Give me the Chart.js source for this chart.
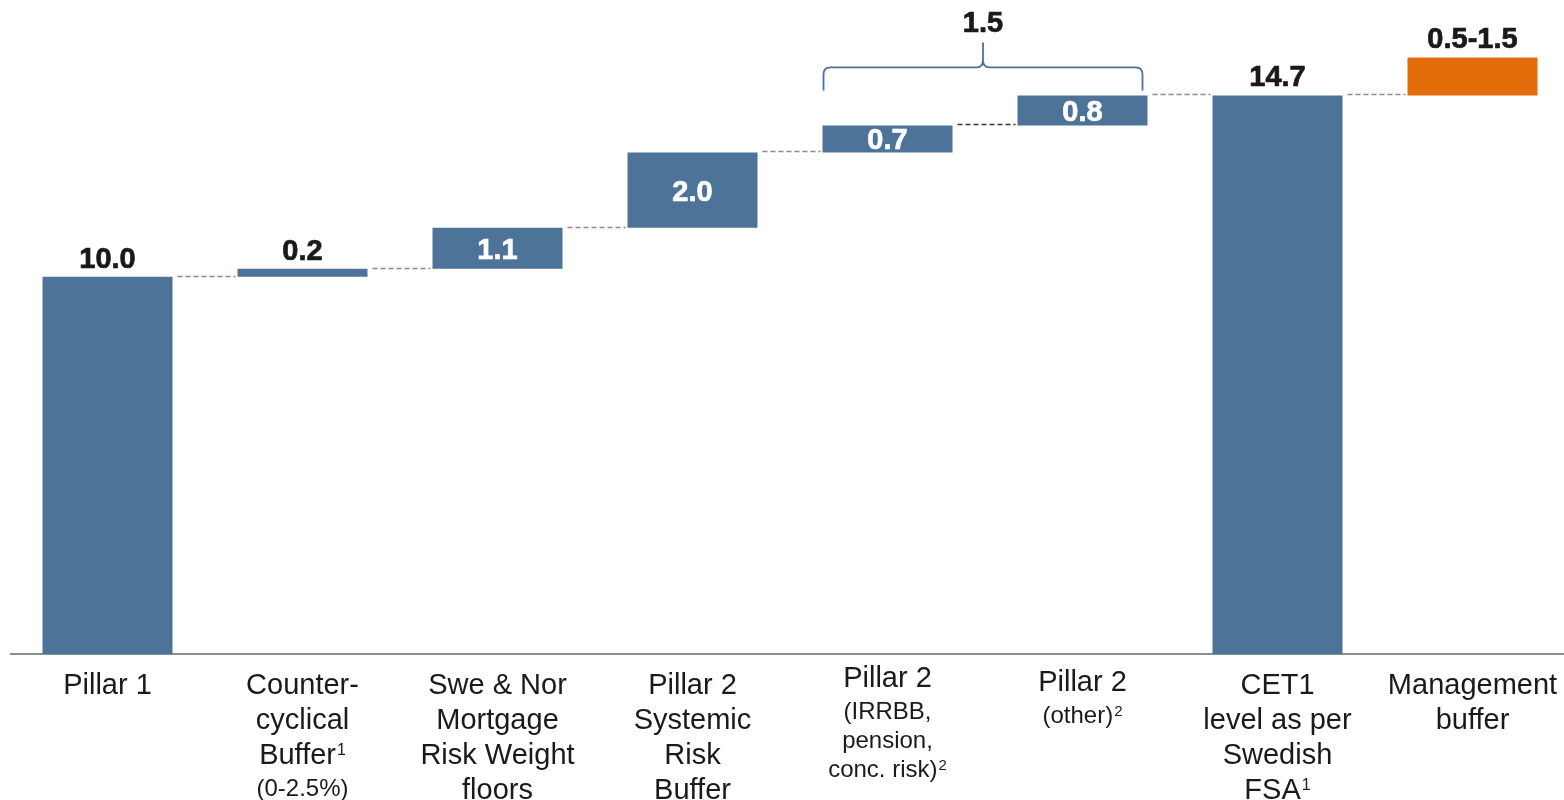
<!DOCTYPE html>
<html>
<head>
<meta charset="utf-8">
<script src="https://cdn.jsdelivr.net/npm/chart.js@4"></script>
<style>
  html, body { margin: 0; padding: 0; background: #fff; overflow: hidden; }
  canvas { display: block; }
</style>
</head>
<body>
<canvas id="waterfall" width="1574" height="800"></canvas>
<script>
// ── DATA ─────────────────────────────
const categories = ["Pillar 1", "CCyB", "RW floors", "P2 systemic", "P2 IRRBB", "P2 other", "CET1", "Mgmt buffer"];
// bar start / end (% of REA)
const barStart = [0,    9.93,  10.14, 11.22, 13.20, 13.91, 0,     14.70];
const barEnd   = [9.93, 10.14, 11.22, 13.20, 13.91, 14.70, 14.70, 15.70];
const valueLabels = ["10.0", "0.2", "1.1", "2.0", "0.7", "0.8", "14.7", "0.5-1.5"];
const labelInside = [false, false, true, true, true, true, false, false];
const bracketLabel = "1.5";

// axis labels: main lines + small lines, "^n" = superscript
const catMainLines = [
  ["Pillar 1"],
  ["Counter-", "cyclical", "Buffer^1"],
  ["Swe & Nor", "Mortgage", "Risk Weight", "floors"],
  ["Pillar 2", "Systemic", "Risk", "Buffer"],
  ["Pillar 2"],
  ["Pillar 2"],
  ["CET1", "level as per", "Swedish", "FSA^1"],
  ["Management", "buffer"]
];
const catSubLines = [
  [],
  ["(0-2.5%)"],
  [],
  [],
  ["(IRRBB,", "pension,", "conc. risk)^2"],
  ["(other)^2"],
  [],
  []
];

const BLUE = "#4d7399";
const ORANGE = "#e46c0a";
const TEXT = "#1a1a1a";
const FONT = '"Liberation Sans", Arial, Helvetica, sans-serif';
const CAP = 0.716; // cap height / em for Liberation Sans

// ── HELPERS ─────────────────────────────
// draws text centred on cx with its cap-height centre at cy
function drawSupText(ctx, text, cx, cy, size, supSize) {
  const parts = text.split("^");
  const main = parts[0];
  const sup = parts[1] || "";
  ctx.font = size + "px " + FONT;
  const wMain = ctx.measureText(main).width;
  ctx.font = supSize + "px " + FONT;
  const wSup = sup ? ctx.measureText(sup).width + 1 : 0;
  const left = cx - (wMain + wSup) / 2;
  const base = cy + size * CAP / 2;
  ctx.textAlign = "left";
  ctx.textBaseline = "alphabetic";
  ctx.font = size + "px " + FONT;
  ctx.fillText(main, left, base);
  if (sup) {
    ctx.font = supSize + "px " + FONT;
    ctx.fillText(sup, left + wMain + 1, base - (size - supSize) * CAP);
  }
}

function boldText(ctx, text, x, y, color) {
  ctx.fillStyle = color;
  ctx.strokeStyle = color;
  ctx.lineWidth = 0.7;
  ctx.fillText(text, x, y);
  ctx.strokeText(text, x, y);
}

// ── PLUGIN: connectors, value labels, bracket, axis ─────────
const waterfallDecor = {
  id: "waterfallDecor",
  beforeDatasetsDraw(chart) {
    const ctx = chart.ctx;
    const area = chart.chartArea;
    const y = chart.scales.y;
    const bars = chart.getDatasetMeta(0).data;

    ctx.save();
    // connectors
    ctx.lineWidth = 1.5;
    ctx.setLineDash([5, 3]);
    for (let i = 0; i < bars.length - 1; i++) {
      const a = bars[i], b = bars[i + 1];
      const py = Math.round(y.getPixelForValue(barEnd[i])) - 0.5;
      ctx.strokeStyle = i === 4 ? "#333" : "#8a8a8a";
      ctx.beginPath();
      ctx.moveTo(a.x + a.width / 2 + 5, py);
      ctx.lineTo(b.x - b.width / 2 - 2, py);
      ctx.stroke();
    }
    ctx.setLineDash([]);

    // baseline
    ctx.strokeStyle = "#8c8c8c";
    ctx.lineWidth = 2;
    ctx.beginPath();
    ctx.moveTo(area.left, area.bottom);
    ctx.lineTo(area.right, area.bottom);
    ctx.stroke();
    ctx.restore();
  },
  afterDatasetsDraw(chart) {
    const ctx = chart.ctx;
    const area = chart.chartArea;
    const bars = chart.getDatasetMeta(0).data;

    ctx.save();
    // value labels
    ctx.textAlign = "center";
    ctx.textBaseline = "alphabetic";
    ctx.font = "bold 29px " + FONT;
    bars.forEach((bar, i) => {
      const top = Math.min(bar.y, bar.base);
      const bottom = Math.max(bar.y, bar.base);
      if (labelInside[i]) {
        boldText(ctx, valueLabels[i], bar.x, (top + bottom) / 2 + 10.5, "#ffffff");
      } else {
        boldText(ctx, valueLabels[i], bar.x, top - 9, TEXT);
      }
    });

    // bracket over the two pillar 2 bars
    const b4 = bars[4], b5 = bars[5];
    const topRef = Math.min(b5.y, b5.base);
    const x1 = b4.x - b4.width / 2 + 1;
    const x2 = b5.x + b5.width / 2 - 5;
    const mid = (x1 + x2) / 2;
    const yEnd = topRef - 5;
    const yH = topRef - 28;
    const yP = topRef - 53;
    const r = 7;
    ctx.strokeStyle = "#4a72a0";
    ctx.lineWidth = 1.8;
    ctx.beginPath();
    ctx.moveTo(x1, yEnd);
    ctx.lineTo(x1, yH + r);
    ctx.quadraticCurveTo(x1, yH, x1 + r, yH);
    ctx.lineTo(mid - r, yH);
    ctx.quadraticCurveTo(mid, yH, mid, yH - r);
    ctx.lineTo(mid, yP);
    ctx.moveTo(mid, yH - r);
    ctx.quadraticCurveTo(mid, yH, mid + r, yH);
    ctx.lineTo(x2 - r, yH);
    ctx.quadraticCurveTo(x2, yH, x2, yH + r);
    ctx.lineTo(x2, yEnd);
    ctx.stroke();
    ctx.font = "bold 29px " + FONT;
    ctx.textAlign = "center";
    boldText(ctx, bracketLabel, mid, yP - 10, TEXT);

    // category labels
    ctx.fillStyle = TEXT;
    bars.forEach((bar, i) => {
      const main = catMainLines[i];
      const sub = catSubLines[i];
      let ly = area.bottom + (sub.length > 2 ? 23 : (sub.length === 1 && main.length === 1 ? 27 : 30));
      main.forEach((line, k) => {
        drawSupText(ctx, line, bar.x, ly, 29, 16);
        if (k < main.length - 1) ly += 35;
      });
      ly += 33;
      sub.forEach(line => {
        drawSupText(ctx, line, bar.x, ly, 24, 15);
        ly += 29;
      });
    });
    ctx.restore();
  }
};

// ── CHART ─────────────────────────────
new Chart(document.getElementById("waterfall").getContext("2d"), {
  type: "bar",
  data: {
    labels: categories,
    datasets: [{
      data: barStart.map((s, i) => [s, barEnd[i]]),
      backgroundColor: categories.map((c, i) => i === categories.length - 1 ? ORANGE : BLUE),
      borderWidth: 0,
      barPercentage: 130 / 195,
      categoryPercentage: 1.0
    }]
  },
  options: {
    responsive: false,
    animation: false,
    layout: { padding: { left: 10, right: 4, top: 0, bottom: 146 } },
    plugins: { legend: { display: false }, tooltip: { enabled: false } },
    scales: {
      x: { display: false },
      y: { display: false, min: 0, max: 17.21 }
    }
  },
  plugins: [waterfallDecor]
});
</script>
</body>
</html>
